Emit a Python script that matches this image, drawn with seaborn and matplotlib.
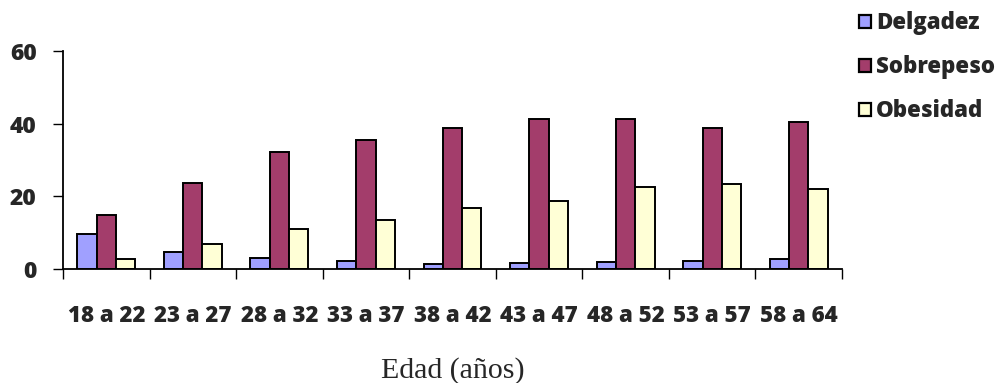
import matplotlib
matplotlib.use("Agg")
import matplotlib.pyplot as plt
from matplotlib.patches import Patch
from matplotlib.ticker import FixedLocator
import seaborn as sns
import pandas as pd

# Age groups and percentages per nutritional category
edades = ["18 a 22", "23 a 27", "28 a 32", "33 a 37", "38 a 42",
          "43 a 47", "48 a 52", "53 a 57", "58 a 64"]
delgadez = [9.7, 4.7, 3.0, 2.2, 1.4, 1.7, 1.9, 2.2, 2.7]
sobrepeso = [14.9, 23.6, 32.2, 35.5, 38.8, 41.2, 41.3, 38.9, 40.5]
obesidad = [2.8, 7.0, 10.9, 13.5, 16.7, 18.6, 22.6, 23.5, 22.0]
series = ["Delgadez", "Sobrepeso", "Obesidad"]
colores = ["#A0A0FF", "#A33D6B", "#FFFFD6"]

df = pd.DataFrame({
    "Edad": edades * 3,
    "Valor": delgadez + sobrepeso + obesidad,
    "Serie": [s for s in series for _ in edades],
})

sns.set_theme(style="white")
plt.rcParams["font.family"] = ["Open Sans", "DejaVu Sans"]

fig = plt.figure(figsize=(9.98, 3.83), dpi=100)
ax = fig.add_axes([63 / 998, 1 - 269 / 383, (842 - 63) / 998, (269 - 51) / 383])

sns.barplot(data=df, x="Edad", y="Valor", hue="Serie", order=edades,
            hue_order=series, palette=colores, width=0.67, gap=0,
            edgecolor="black", linewidth=1.4, saturation=1, ax=ax, legend=False)

ax.set_xlim(-0.5, len(edades) - 0.5)
ax.set_ylim(0, 60)
ax.set_yticks([0, 20, 40, 60])
ax.tick_params(axis="y", which="major", length=7, width=1, color="black",
               direction="out", left=True, pad=12, labelsize=16.5)
for t in ax.get_yticklabels():
    t.set_fontweight("heavy")

# category labels centred, tick marks on the group boundaries
ax.set_xticks(range(len(edades)))
ax.set_xticklabels(edades, fontsize=16, fontweight="heavy")
ax.tick_params(axis="x", which="major", length=0, pad=25)
ax.xaxis.set_minor_locator(FixedLocator([i - 0.5 for i in range(len(edades) + 1)]))
ax.tick_params(axis="x", which="minor", length=7, width=1, color="black",
               direction="out", bottom=True)

for side in ["top", "right"]:
    ax.spines[side].set_visible(False)
for side in ["left", "bottom"]:
    ax.spines[side].set_color("black")
    ax.spines[side].set_linewidth(1.3)

ax.set_ylabel("")
ax.set_xlabel("Edad (años)", fontsize=21.5, family=["Liberation Serif"],
              labelpad=21)

handles = [Patch(facecolor=c, edgecolor="black", linewidth=1.6) for c in colores]
fig.legend(handles, series, loc="upper left", bbox_to_anchor=(843 / 998, 1.011),
           frameon=False, prop={"weight": "heavy", "size": 16},
           handlelength=0.58, handleheight=0.58, handletextpad=0.22,
           labelspacing=0.9, borderaxespad=0.3)

fig.savefig("out.png", dpi=100, facecolor="white")
